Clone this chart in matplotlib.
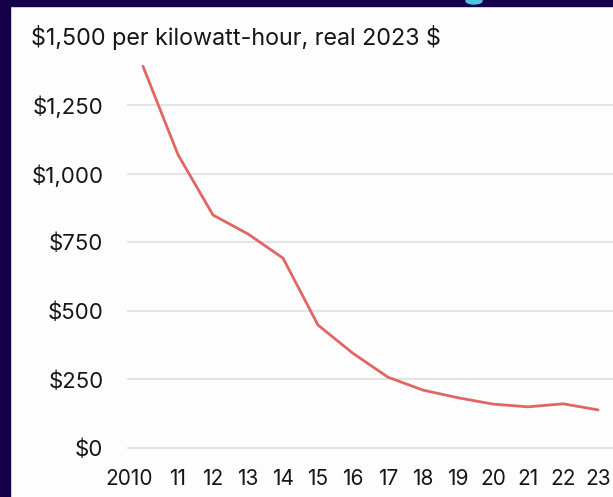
import numpy as np
import matplotlib
matplotlib.use("Agg")
from matplotlib import pyplot as plt
from matplotlib.patches import Rectangle, Ellipse
import matplotlib.transforms as mtransforms

# battery pack price, real 2023 $ per kWh
years = [2010, 2011, 2012, 2013, 2014, 2015, 2016, 2017, 2018, 2019, 2020, 2021, 2022, 2023]
prices = [1391, 1069, 849, 780, 692, 448, 345, 258, 211, 183, 160, 150, 161, 139]
year_labels = ["2010", "11", "12", "13", "14", "15", "16", "17", "18", "19", "20", "21", "22", "23"]
y_ticks = [0, 250, 500, 750, 1000, 1250]
y_labels = [r"\$0", r"\$250", r"\$500", r"\$750", r"\$1,000", r"\$1,250"]

W, H = 613, 497
plt.rcParams['font.family'] = ['Inter', 'DejaVu Sans']
txt = '#161616'

fig = plt.figure(figsize=(W / 100, H / 100), dpi=100)
fig.patch.set_facecolor('#fdfdfd')

# dark frame of the screenshot (left and top edge)
fig.patches.append(Rectangle((0, 0), 10 / W, 1, transform=fig.transFigure,
                             color='#16004a', zorder=0))
fig.patches.append(Rectangle((0, 1 - 6 / H), 1, 6 / H, transform=fig.transFigure,
                             color='#16004a', zorder=0))
fig.patches.append(Ellipse((474 / W, 1 - 1 / H), 16 / W, 6 / H, transform=fig.transFigure,
                           color='#4fc3e0', zorder=1))

# axes placement (pixels): left 127, right 613, y=0 at 448, top 60
px_per_val = (448 - 105) / 1250
ymin, ymax = -20, (448 - 60) / px_per_val
bottom_px = 448 + (-ymin) * px_per_val
ax = fig.add_axes([127 / W, (H - bottom_px) / H, (W - 127) / W, (bottom_px - 60) / H])
ax.set_facecolor('none')

px_per_year = 35
ax.set_xlim(2010 - (143 - 127) / px_per_year, 2023 + (613 - 598) / px_per_year)
ax.set_ylim(ymin, ymax)

for v in y_ticks:
    ax.axhline(v, color='#e2e2e2', lw=1.3, zorder=1)

ax.plot(years, prices, color='#e06664', lw=2.0, zorder=3, clip_on=False,
        solid_joinstyle='round', solid_capstyle='round')

for s in ax.spines.values():
    s.set_visible(False)

ax.set_yticks(y_ticks)
ax.set_yticklabels(y_labels)
ax.set_xticks(years)
ax.set_xticklabels(year_labels)
ax.tick_params(axis='y', length=0, pad=17, labelsize=16, labelcolor=txt)
ax.tick_params(axis='x', length=0, pad=11, labelsize=15, labelcolor=txt)

# first year label sits a bit left of its tick
first = ax.get_xticklabels()[0]
first.set_ha('right')
first.set_transform(first.get_transform() + mtransforms.ScaledTranslation(10 / 100, 0, fig.dpi_scale_trans))

fig.text(31 / W, 1 - 38 / H, r"\$1,500 per kilowatt-hour, real 2023 \$", fontsize=16.8,
         color=txt, ha='left', va='center')

fig.savefig('out.png', dpi=100, facecolor=fig.get_facecolor())
